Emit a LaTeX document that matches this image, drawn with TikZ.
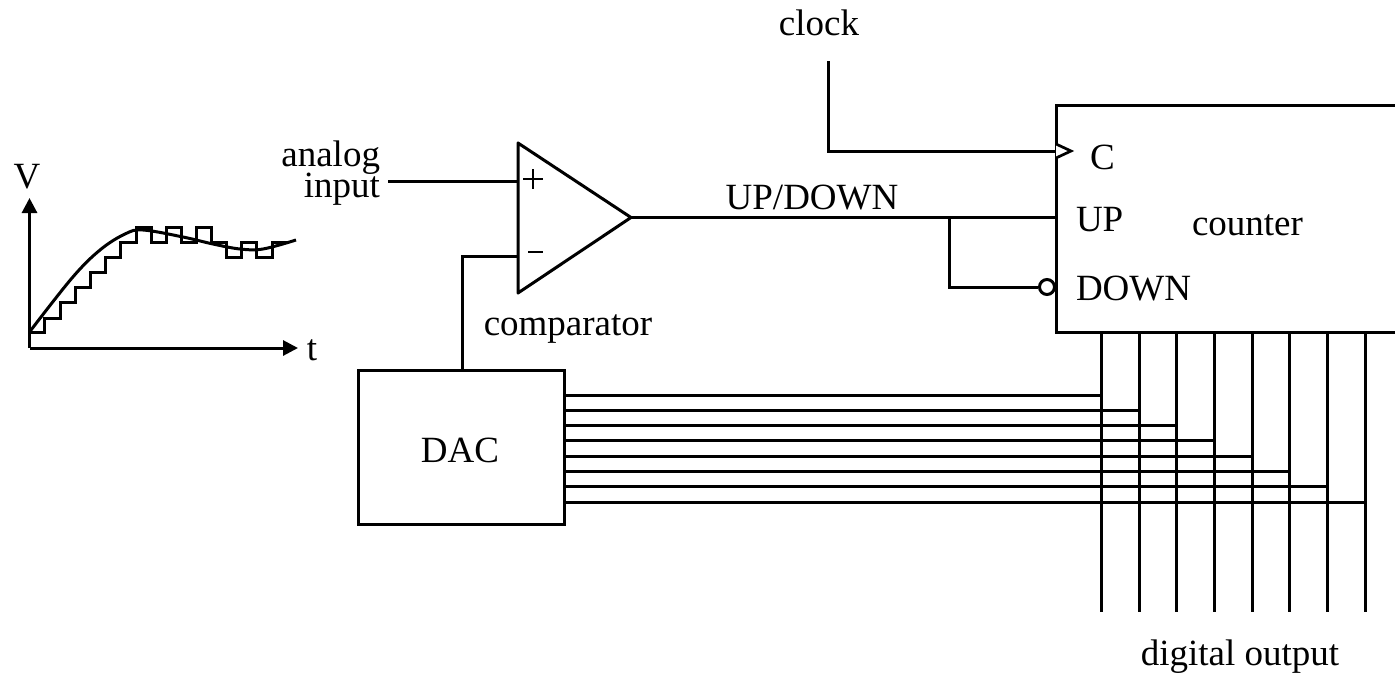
\documentclass[tikz,border=0pt]{standalone}
\usepackage{fontspec}
\setmainfont{Liberation Serif}
\usetikzlibrary{arrows.meta}
\tikzset{
  wire/.style={line width=3pt,line cap=butt,line join=miter},
  thinwire/.style={line width=2.7pt,line cap=butt,line join=miter},
  axis/.style={wire,-{Triangle[length=15pt,width=15pt]}},
  txt/.style={inner sep=0pt,outer sep=0pt,anchor=base,font=\fontsize{37pt}{37pt}\selectfont},
  ltxt/.style={txt,anchor=base west},
  rtxt/.style={txt,anchor=base east},
  block/.style={draw,wire,inner sep=0pt,outer sep=0pt}
}
\begin{document}
\begin{tikzpicture}[x=1pt,y=-1pt]
\useasboundingbox (0,0) rectangle (1395,673);
% waveform
\coordinate (o) at (29.5,348);
\coordinate (vtop) at (29.5,198);
\coordinate (ttip) at (298,348);
\draw[axis] (o) -- (vtop);
\draw[axis] (o) -- (ttip);
\draw[wire] (29.5,332) -| (44.5,318) -| (60,302) -| (75,287) -| (90,272) -| (105,257) -| (120,242) -| (136,227) -| (151,242) -| (166,227) -| (181,242) -| (196,227) -| (211,242) -| (226,257) -| (241,242) -| (256,257) -| (272,242) -- (287,242);
\draw[wire] plot[smooth,tension=0.6] coordinates {(29.5,332) (72,278) (100,250) (125,234) (143,230) (183,237) (213,244) (240,249) (263,249) (296,240)};
\node[txt] (vlab) at (27,188) {V};
\node[txt] (tlab) at (312,360) {t};
% comparator
\coordinate (ca) at (518,143);
\coordinate (cb) at (518,293);
\coordinate (ctip) at (631,217.5);
\draw[wire,line join=round] (ca) -- (cb) -- (ctip) -- cycle;
\coordinate (cplus) at (518,181);
\coordinate (cminus) at (518,256);
\draw[thinwire] (523,179) -- (543,179) (533,169) -- (533,189);
\draw[thinwire] (528,252) -- (543,252);
\node[rtxt] (alab) at (380,166) {analog};
\node[rtxt] (ilab) at (380,197) {input};
\coordinate (inp) at (388,181);
\draw[wire] (inp) -- (cplus);
\node[txt] (cmp) at (568,335) {comparator};
% DAC
\node[block,minimum width=206pt,minimum height=154pt,anchor=north west] (dac) at (358,370) {};
\node[txt] (daclab) at (460,462) {DAC};
\draw[wire] (cminus) -| (dac.north -| 462,0);
% counter
\coordinate (cl) at (1056,105);
\coordinate (cr) at (1397,105);
\coordinate (bl) at (1056,332);
\coordinate (br) at (1397,332);
\draw[wire] (cr) -- (cl) -- (bl) -- (br);
\coordinate (clk) at (828,61);
\coordinate (clkin) at (1056,151);
\draw[wire] (clk) |- (clkin);
\draw[thinwire,fill=white] (1056,144) -- (1071,151) -- (1056,158);
\coordinate (upin) at (1056,218);
\draw[wire] (ctip) -- (ctip -| upin);
\coordinate (br1) at (949,218);
\node[draw,circle,wire,fill=white,minimum size=15pt,inner sep=0pt] (bub) at (1047,287) {};
\draw[wire] (br1) |- (bub.west);
\node[txt] (clab) at (819,35) {clock};
\node[txt] (ud) at (812,209) {UP/DOWN};
\node[ltxt] (c) at (1090,169) {C};
\node[ltxt] (up) at (1076,231) {UP};
\node[ltxt] (down) at (1076,300) {DOWN};
\node[ltxt] (cnt) at (1192,235) {counter};
\node[txt] (dout) at (1240,665) {digital output};
% buses
\foreach \i/\x/\y in {1/1101/395,2/1139/410.5,3/1176.7/425.5,4/1214/440.5,5/1252/456,6/1289.5/471,7/1327.5/486.5,8/1365/502}{
  \coordinate (top\i) at (\x,332);
  \coordinate (end\i) at (\x,612);
  \coordinate (hs\i) at (564,\y);
  \draw[wire] (top\i) -- (end\i);
  \draw[wire] (hs\i) -- (\x,\y);
}
\end{tikzpicture}
\end{document}
